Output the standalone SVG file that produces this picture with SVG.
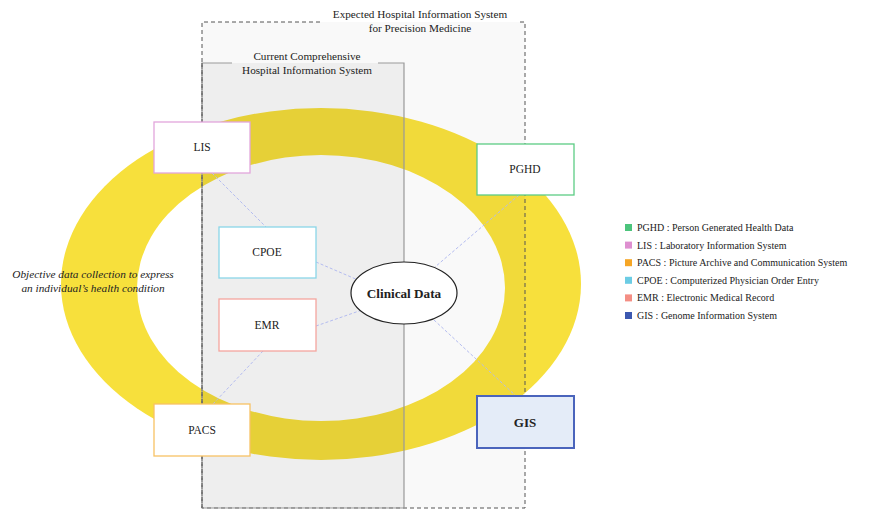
<svg xmlns="http://www.w3.org/2000/svg" width="877" height="510" viewBox="0 0 877 510" font-family="'Liberation Serif', 'Times New Roman', serif">
<style>
text{fill:#222}
.lbl{font-size:11.5px;text-anchor:middle}
.node{fill:#fff;stroke-width:1.3}
.conn{stroke:#b4bcf0;stroke-width:1;stroke-dasharray:3 2;fill:none}
.leg{font-size:10px}
.hdr{font-size:11.2px;text-anchor:middle}
</style>
<rect width="877" height="510" fill="#fff"/>
<g id="ring">
<ellipse cx="321" cy="284" rx="260" ry="176" fill="#f7e03c"/>
<ellipse cx="321" cy="288" rx="184" ry="133" fill="#fff"/>
</g>
<g id="expected-his">
<rect x="202" y="22" width="323" height="486" fill="#000" fill-opacity="0.022"/>
<path d="M320 22H202V508H525V22H518" fill="none" stroke="#555" stroke-dasharray="4 3"/>
<text class="hdr" x="420" y="18">Expected Hospital Information System</text>
<text class="hdr" x="420" y="32">for Precision Medicine</text>
</g>
<g id="current-his">
<rect x="202" y="63" width="202" height="445" fill="#000" fill-opacity="0.045"/>
<path d="M232 63H202V508H404V63H378" fill="none" stroke="#999" stroke-width="1.2"/>
<path d="M202 63V508" fill="none" stroke="#555" stroke-dasharray="4 3"/>
<text class="hdr" x="307" y="60">Current Comprehensive</text>
<text class="hdr" x="307" y="74">Hospital Information System</text>
</g>
<g id="connectors">
<line class="conn" x1="212" y1="173" x2="266" y2="227"/>
<line class="conn" x1="316" y1="262" x2="358" y2="280"/>
<line class="conn" x1="316" y1="326" x2="362" y2="310"/>
<line class="conn" x1="263" y1="351" x2="213" y2="404"/>
<line class="conn" x1="519" y1="195" x2="435" y2="267"/>
<line class="conn" x1="434" y1="320" x2="516" y2="396"/>
</g>
<g id="LIS"><rect class="node" x="154" y="122" width="96" height="51" stroke="#e2a6dc"/><text class="lbl" x="202" y="151">LIS</text></g>
<g id="CPOE"><rect class="node" x="219" y="227" width="97" height="51" stroke="#8ad6e8"/><text class="lbl" x="267" y="256">CPOE</text></g>
<g id="EMR"><rect class="node" x="219" y="299" width="97" height="52" stroke="#f5a59e"/><text class="lbl" x="267" y="329">EMR</text></g>
<g id="PACS"><rect class="node" x="154" y="404" width="96" height="52" stroke="#f8c264"/><text class="lbl" x="202" y="434">PACS</text></g>
<g id="PGHD"><rect class="node" x="477" y="144" width="97" height="51" stroke="#5ccc84"/><text class="lbl" x="525" y="173">PGHD</text></g>
<g id="GIS"><rect x="477" y="396" width="97" height="52" fill="#e4ecf8" stroke="#4a64bc" stroke-width="2"/><text x="525" y="427" font-size="13" font-weight="bold" text-anchor="middle">GIS</text></g>
<g id="clinical-data"><ellipse cx="404" cy="293" rx="53" ry="31" fill="#fff" stroke="#222" stroke-width="1.2"/><text x="404" y="298" font-size="13.2" font-weight="bold" text-anchor="middle">Clinical Data</text></g>
<g id="caption">
<text x="93" y="278" font-size="11.3" font-style="italic" text-anchor="middle">Objective data collection to express</text>
<text x="93" y="292" font-size="11.3" font-style="italic" text-anchor="middle">an individual’s health condition</text>
</g>
<g id="legend">
<rect x="625" y="224" width="7" height="7" fill="#4cc47c"/><text class="leg" x="637" y="231">PGHD : Person Generated Health Data</text>
<rect x="625" y="241.6" width="7" height="7" fill="#de8fd0"/><text class="leg" x="637" y="248.6">LIS : Laboratory Information System</text>
<rect x="625" y="259.2" width="7" height="7" fill="#f6a626"/><text class="leg" x="637" y="266.2">PACS : Picture Archive and Communication System</text>
<rect x="625" y="276.8" width="7" height="7" fill="#6ccce4"/><text class="leg" x="637" y="283.8">CPOE : Computerized Physician Order Entry</text>
<rect x="625" y="294.4" width="7" height="7" fill="#f48e84"/><text class="leg" x="637" y="301.4">EMR : Electronic Medical Record</text>
<rect x="625" y="312" width="7" height="7" fill="#3c58b0"/><text class="leg" x="637" y="319">GIS : Genome Information System</text>
</g>
</svg>
